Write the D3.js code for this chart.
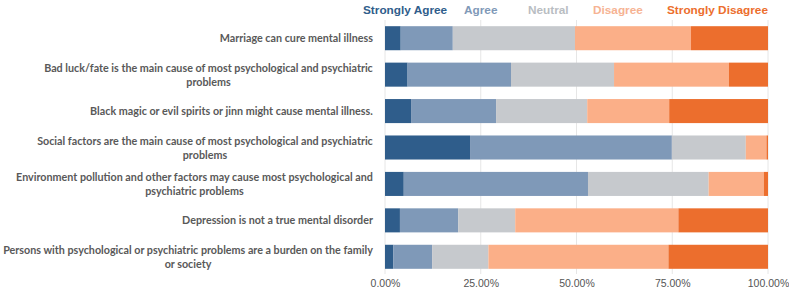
<!DOCTYPE html>
<html>
<head>
<meta charset="utf-8">
<script src="https://cdn.jsdelivr.net/npm/d3@7"></script>
<style>
  body { margin: 0; background: #fff; }
  svg { display: block; }
</style>
</head>
<body>
<div id="chart"></div>
<script>
// survey statements (each entry is the wrapped lines of one label)
var statements = [
  ["Marriage can cure mental illness"],
  ["Bad luck/fate is the main cause of most psychological and psychiatric", "problems"],
  ["Black magic or evil spirits or jinn might cause mental illness."],
  ["Social factors are the main cause of most psychological and psychiatric", "problems"],
  ["Environment pollution and other factors may cause most psychological and", "psychiatric problems"],
  ["Depression is not a true mental disorder"],
  ["Persons with psychological or psychiatric problems are a burden on the family", "or society"]
];
var responses = ["Strongly Agree", "Agree", "Neutral", "Disagree", "Strongly Disagree"];

// percentages, one array per response
var stronglyAgree    = [4.1, 5.9, 6.8, 22.2, 4.9, 3.9, 2.2];
var agree            = [13.6, 27.0, 22.2, 52.7, 48.1, 15.2, 10.1];
var neutral          = [31.9, 26.9, 23.8, 19.3, 31.5, 14.9, 14.7];
var disagree         = [30.3, 30.0, 21.4, 5.4, 14.4, 42.6, 47.0];
var stronglyDisagree = [20.1, 10.2, 25.8, 0.4, 1.1, 23.4, 26.0];

var ticks = [0, 0.25, 0.5, 0.75, 1];

var barColors = ["#2f5d8b", "#7f99b8", "#c6c9cd", "#fbaf88", "#ec6e2d"];
var legendColors = ["#2f5d8b", "#7f99b8", "#b9bdc2", "#f6b393", "#ec6e2d"];

var width = 789, height = 292;

var svg = d3.select("#chart")
  .append("svg")
    .attr("width", width)
    .attr("height", height);

// build rows for the stack
var keys = statements.map(function(d) { return d.join(" "); });
var rows = keys.map(function(k, i) {
  return {
    key: k,
    "Strongly Agree": stronglyAgree[i],
    "Agree": agree[i],
    "Neutral": neutral[i],
    "Disagree": disagree[i],
    "Strongly Disagree": stronglyDisagree[i]
  };
});

var stack = d3.stack().keys(responses)
  .offset(d3.stackOffsetExpand);
var series = stack(rows);

var x = d3.scaleLinear()
  .domain([0, 1])
  .range([385, 768]);

var y = d3.scaleBand()
  .domain(keys)
  .range([20, 275])
  .paddingInner(0.34)
  .paddingOuter(0.17);

var color = d3.scaleOrdinal().domain(responses).range(barColors);

// vertical gridlines
svg.append("g")
  .selectAll("line")
  .data(ticks)
  .enter().append("line")
    .attr("x1", function(d) { return x(d); })
    .attr("x2", function(d) { return x(d); })
    .attr("y1", 20)
    .attr("y2", 274)
    .attr("stroke", "#e6e6e6")
    .attr("stroke-width", 1);

// stacked bars
svg.append("g")
  .selectAll("g")
  .data(series)
  .enter().append("g")
    .attr("fill", function(d) { return color(d.key); })
  .selectAll("rect")
  .data(function(d) { return d; })
  .enter().append("rect")
    .attr("x", function(d) { return x(d[0]); })
    .attr("width", function(d) { return x(d[1]) - x(d[0]); })
    .attr("y", function(d) { return y(d.data.key); })
    .attr("height", y.bandwidth());

// x axis tick labels
var xAxis = d3.axisBottom(x)
  .tickValues(ticks)
  .tickSize(0)
  .tickPadding(0)
  .tickFormat(d3.format(".2%"));
var gx = svg.append("g")
  .attr("transform", "translate(0,280)")
  .call(xAxis);
gx.select(".domain").remove();
gx.selectAll("text")
  .attr("font-family", "Liberation Sans, Arial, sans-serif")
  .attr("font-size", 10.5)
  .attr("fill", "#555");

// category labels, right aligned
var labels = svg.append("g")
  .selectAll("text")
  .data(statements)
  .enter().append("text")
    .attr("text-anchor", "middle")
    .attr("font-family", "Lato, Open Sans, sans-serif")
    .attr("font-weight", "bold")
    .attr("font-size", 11)
    .attr("fill", "#595959");

var widths = [];
labels.each(function(lines, i) {
  var t = d3.select(this);
  var cy = y(keys[i]) + y.bandwidth() / 2;
  var y0 = cy - (lines.length - 1) * 7 + 4;
  var widest = 0;
  lines.forEach(function(l, j) {
    var ts = t.append("tspan").attr("y", y0 + j * 14).text(l);
    widest = Math.max(widest, ts.node().getComputedTextLength());
  });
  widths.push(widest);
});

// shrink the font so the longest label fits in the left margin
var fs = Math.min(11.5, 11 * 370 / d3.max(widths));
labels.attr("font-size", fs)
  .each(function(lines, i) {
    var w = widths[i] * fs / 11;
    // centre the lines under the widest one, flush with the right edge
    d3.select(this).selectAll("tspan").attr("x", 373 - w / 2);
  });

// legend across the top
var legendX = [363, 464, 528, 593, 667];
svg.append("g")
  .selectAll("text")
  .data(responses)
  .enter().append("text")
    .attr("x", function(d, i) { return legendX[i]; })
    .attr("y", 14)
    .attr("font-family", "Liberation Sans, Arial, sans-serif")
    .attr("font-weight", "bold")
    .attr("font-size", 11.8)
    .attr("fill", function(d, i) { return legendColors[i]; })
    .text(function(d) { return d; });
</script>
</body>
</html>
